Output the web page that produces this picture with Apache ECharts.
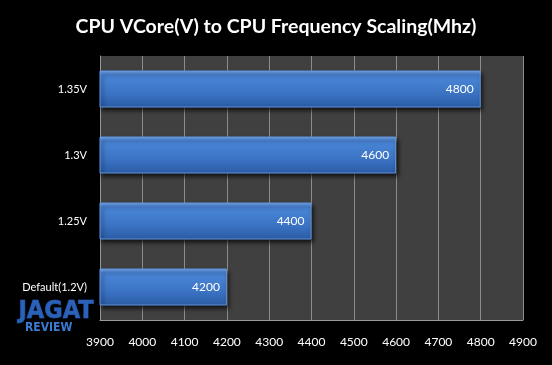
<!DOCTYPE html>
<html><head><meta charset="utf-8">
<script src="https://cdn.jsdelivr.net/npm/echarts@6/dist/echarts.min.js"></script>
<style>html,body{margin:0;padding:0;background:#000;}#c{width:552px;height:365px;}</style>
</head><body><div id="c"></div>
<script>
const titleText = 'CPU VCore(V) to CPU Frequency Scaling(Mhz)';
const categories = ['Default(1.2V)', '1.25V', '1.3V', '1.35V'];
const frequencies = [4200, 4400, 4600, 4800];
const xTicks = [3900, 4000, 4100, 4200, 4300, 4400, 4500, 4600, 4700, 4800, 4900];

const chart = echarts.init(document.getElementById('c'), null, {renderer: 'canvas'});
const font = 'Lato, "Open Sans", sans-serif';
chart.setOption({
  backgroundColor: '#000',
  animation: false,
  title: {
    text: titleText, left: 'center', top: 12,
    textStyle: {color: '#fff', fontSize: 19.5, fontWeight: 'bold', fontFamily: font}
  },
  grid: {left: 100, right: 29, top: 56, bottom: 45, show: true, backgroundColor: '#404040', borderWidth: 0},
  xAxis: {
    type: 'value', min: xTicks[0], max: xTicks[xTicks.length - 1], interval: 100,
    axisLine: {show: true, lineStyle: {color: '#999', width: 1}},
    axisTick: {show: false},
    splitLine: {show: true, lineStyle: {color: '#8c8c8c', width: 1}},
    axisLabel: {color: '#fff', fontSize: 12, fontFamily: font, margin: 16, formatter: v => String(v)}
  },
  yAxis: {
    type: 'category', data: categories,
    axisLine: {show: true, lineStyle: {color: '#999'}},
    axisTick: {show: false},
    axisLabel: {color: '#fff', fontSize: 11, fontFamily: font, margin: 13}
  },
  series: [{
    type: 'bar', data: frequencies, barWidth: 37,
    itemStyle: {
      color: new echarts.graphic.LinearGradient(0, 0, 0, 1, [
        {offset: 0, color: '#7aaaf0'},
        {offset: 0.12, color: '#4a86d8'},
        {offset: 0.6, color: '#3c74c4'},
        {offset: 1, color: '#2b5ca6'}
      ]),
      borderColor: '#5f95dd', borderWidth: 1,
      shadowColor: 'rgba(0,0,0,0.7)', shadowBlur: 4, shadowOffsetX: 2, shadowOffsetY: 3
    },
    label: {show: true, position: 'insideRight', distance: 7, color: '#fff', fontSize: 12, fontFamily: font}
  }],
  graphic: [
    {type: 'text', left: 18, top: 298, style: {text: 'JAGAT', fill: '#2a62b8', font: 'bold 25px "DejaVu Sans Condensed", sans-serif', stroke: '#1a3d80', lineWidth: 1}},
    {type: 'text', left: 25, top: 322, style: {text: 'REVIEW', fill: '#3a7bd6', font: 'bold 12px "DejaVu Sans Condensed", sans-serif'}}
  ]
});
</script></body></html>
